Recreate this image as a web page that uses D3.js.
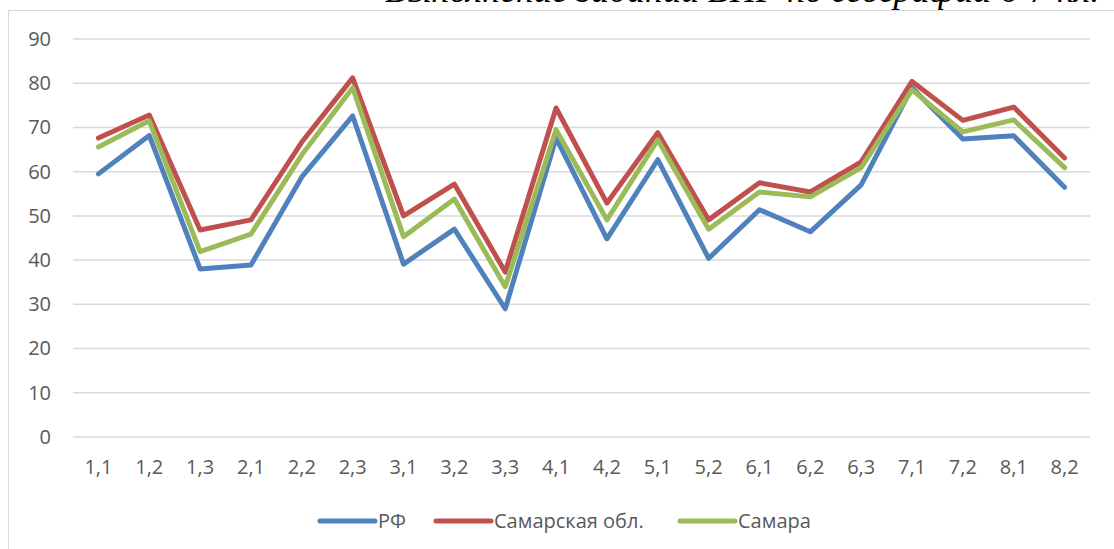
<!DOCTYPE html>
<html>
<head>
<meta charset="utf-8">
<script src="https://cdn.jsdelivr.net/npm/d3@7"></script>
<style>
  body { margin: 0; background: #fff; }
  svg { display: block; }
</style>
</head>
<body>
<script>
// chart data
var categories = ["1,1","1,2","1,3","2,1","2,2","2,3","3,1","3,2","3,3","4,1",
                  "4,2","5,1","5,2","6,1","6,2","6,3","7,1","7,2","8,1","8,2"];
var rfValues     = [59.5, 68.2, 38.0, 38.9, 58.8, 72.6, 39.1, 47.0, 29.0, 67.6,
                    44.8, 62.7, 40.4, 51.4, 46.4, 57.0, 79.0, 67.4, 68.1, 56.5];
var oblValues    = [67.6, 72.8, 46.8, 49.1, 66.7, 81.2, 50.0, 57.2, 37.3, 74.4,
                    52.9, 68.8, 49.1, 57.5, 55.4, 62.2, 80.4, 71.6, 74.6, 63.1];
var samaraValues = [65.6, 71.5, 41.9, 45.9, 63.8, 79.0, 45.3, 53.8, 34.0, 69.5,
                    49.1, 67.2, 47.0, 55.4, 54.3, 60.9, 78.5, 69.0, 71.7, 60.9];
var seriesNames  = ["РФ", "Самарская обл.", "Самара"];
var yTicks = [0, 10, 20, 30, 40, 50, 60, 70, 80, 90];
var titleText = "Выполнение заданий ВПР по географии 6-7 кл.";

var width = 1114, height = 549;
var colors = ["#4f81bd", "#c0504d", "#9bbb59"];
var series = [rfValues, oblValues, samaraValues];
var labelFont = "'Open Sans', sans-serif";

var svg = d3.select("body").append("svg")
    .attr("width", width)
    .attr("height", height);

// chart area border
svg.append("rect")
    .attr("x", 8.5)
    .attr("y", 10.5)
    .attr("width", 1120)
    .attr("height", 560)
    .style("fill", "#fff")
    .style("stroke", "#d9d9d9")
    .style("stroke-width", 1);

// document title above the chart, cut off at the top
svg.append("text")
    .attr("x", 385)
    .attr("y", 2)
    .style("font-family", "'Liberation Serif', serif")
    .style("font-style", "italic")
    .style("font-size", "36px")
    .style("fill", "#000")
    .text(titleText);

var x = d3.scaleBand()
    .domain(categories)
    .range([73, 1090]);

var y = d3.scaleLinear()
    .domain([0, 90])
    .range([437, 39]);

// gridlines
svg.selectAll(".grid")
    .data(yTicks)
    .enter()
    .append("line")
    .attr("class", "grid")
    .attr("x1", 73)
    .attr("x2", 1090)
    .attr("y1", function(d){ return y(d); })
    .attr("y2", function(d){ return y(d); })
    .style("stroke", "#d9d9d9")
    .style("stroke-width", 1.5);

// y axis labels
var yAxis = svg.append("g")
    .attr("transform", "translate(51,0)")
    .call(d3.axisLeft(y).tickValues(yTicks).tickSize(0).tickPadding(0));
yAxis.select(".domain").remove();
yAxis.selectAll("text")
    .style("font-family", labelFont)
    .style("font-size", "20px")
    .style("fill", "#595959");

// x axis labels
var xAxis = svg.append("g")
    .attr("transform", "translate(0,437)")
    .call(d3.axisBottom(x).tickSize(0).tickPadding(23));
xAxis.select(".domain").remove();
xAxis.selectAll("text")
    .style("font-family", labelFont)
    .style("font-size", "20px")
    .style("fill", "#595959");

// lines
var line = d3.line()
    .x(function(d, i){ return x(categories[i]) + x.bandwidth() / 2; })
    .y(function(d){ return y(d); });

svg.selectAll(".series")
    .data(series)
    .enter()
    .append("path")
    .attr("class", "series")
    .attr("d", line)
    .style("fill", "none")
    .style("stroke", function(d, i){ return colors[i]; })
    .style("stroke-width", 5)
    .style("stroke-linejoin", "round")
    .style("stroke-linecap", "round");

// legend
var legendX = [320, 436, 680];
var legend = svg.selectAll(".legend")
    .data(seriesNames)
    .enter()
    .append("g")
    .attr("class", "legend")
    .attr("transform", function(d, i){ return "translate(" + legendX[i] + ",521)"; });

legend.append("line")
    .attr("x1", 0)
    .attr("x2", 55)
    .style("stroke", function(d, i){ return colors[i]; })
    .style("stroke-width", 5)
    .style("stroke-linecap", "round");

legend.append("text")
    .attr("x", 58)
    .attr("dy", "0.35em")
    .style("font-family", labelFont)
    .style("font-size", "20px")
    .style("fill", "#595959")
    .text(function(d){ return d; });
</script>
</body>
</html>
